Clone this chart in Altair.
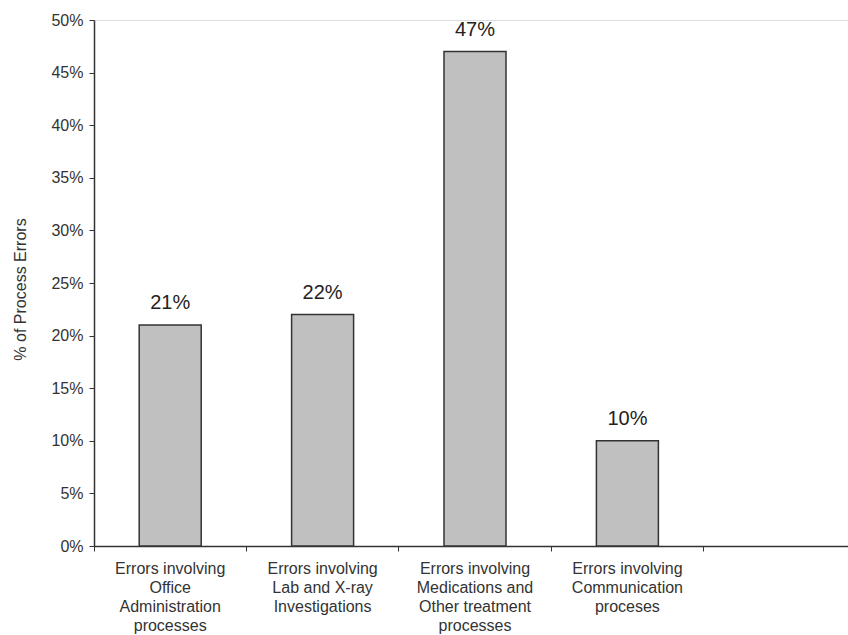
import altair as alt
import pandas as pd

categories = [
    "Errors involving|Office|Administration|processes",
    "Errors involving|Lab and X-ray|Investigations",
    "Errors involving|Medications and|Other treatment|processes",
    "Errors involving|Communication|proceses",
]
empty_slot = " "
values = [21, 22, 47, 10]
value_labels = ["21%", "22%", "47%", "10%"]

df = pd.DataFrame({"cat": categories, "val": [v / 100 for v in values], "lab": value_labels})

domain = categories + [empty_slot]
font = "Liberation Sans"

x_enc = alt.X(
    "cat:N",
    sort=domain,
    scale=alt.Scale(domain=domain, range=[0, 762], paddingInner=0, paddingOuter=0),
    axis=alt.Axis(
        title=None,
        labelAngle=0,
        labelExpr="split(datum.label, '|')",
        labelFont=font,
        labelFontSize=16,
        labelLineHeight=19,
        labelColor="#333",
        labelPadding=9,
        labelBaseline="top",
        bandPosition=0,
        tickSize=5,
        tickColor="#333",
        domainColor="#333",
        domainWidth=1.5,
        labelOverlap=False,
        labelBound=False,
        labelLimit=300,
    ),
)

y_scale = alt.Scale(domain=[0, 0.5], nice=False)

bars = alt.Chart(df).mark_bar(
    size=62, color="#c0c0c0", stroke="#333", strokeWidth=1.5
).encode(
    x=x_enc,
    y=alt.Y(
        "val:Q",
        scale=y_scale,
        axis=alt.Axis(
            title="% of Process Errors",
            titleFont=font,
            titleFontSize=16,
            titleFontWeight="normal",
            titleColor="#333",
            titlePadding=22,
            titleY=269,
            format=".0%",
            values=[i / 100 for i in range(0, 51, 5)],
            labelFont=font,
            labelFontSize=16,
            labelColor="#333",
            labelPadding=6,
            tickSize=5,
            tickColor="#333",
            domainColor="#333",
            domainWidth=1.5,
            grid=False,
        ),
    ),
)

text = alt.Chart(df).mark_text(
    font=font, fontSize=20, color="#222", baseline="alphabetic", dy=-16
).encode(
    x=alt.X("cat:N", sort=domain, scale=alt.Scale(domain=domain)),
    y=alt.Y("val:Q", scale=y_scale),
    text="lab:N",
)

chart = (
    alt.layer(bars, text)
    .properties(
        width=754,
        height=526,
        autosize=alt.AutoSizeParams(type="none"),
        padding={"left": 94, "top": 20, "right": 0, "bottom": 89},
    )
    .configure_view(stroke=None)
    .configure(background="white")
)

chart.save("out.html", embed_options={"renderer": "svg", "actions": False})
